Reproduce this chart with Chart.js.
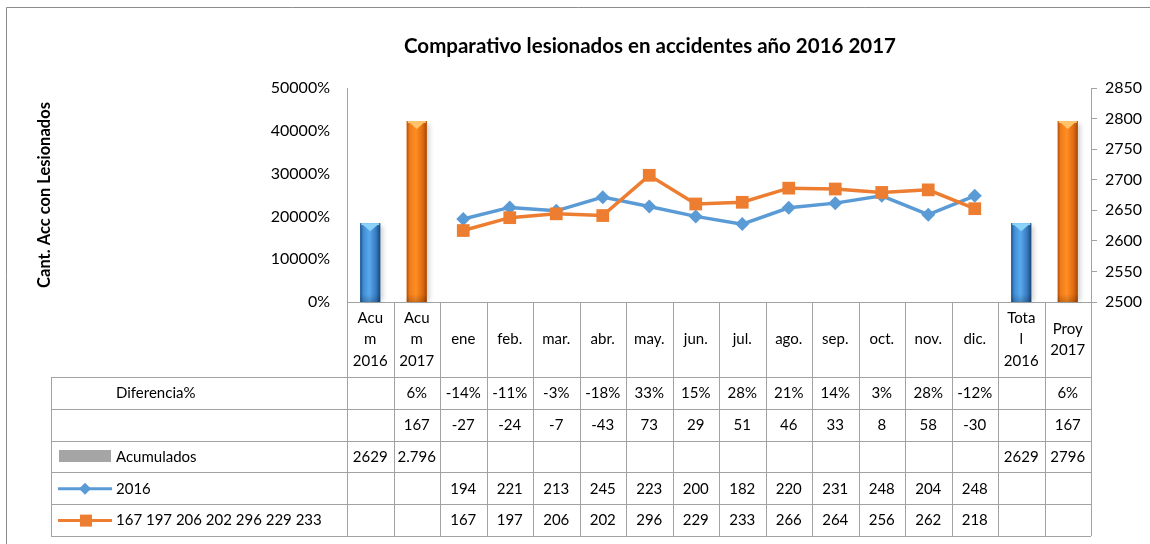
<!DOCTYPE html>
<html>
<head>
<meta charset="utf-8">
<script src="https://cdn.jsdelivr.net/npm/chart.js@4.4.1/dist/chart.umd.min.js"></script>
<style>
  html, body { margin: 0; padding: 0; background: #ffffff; }
  #wrap { width: 1150px; height: 544px; position: relative; }
</style>
</head>
<body>
<div id="wrap"><canvas id="c" width="1150" height="544"></canvas></div>
<script>
// Categories (multi-line labels wrap inside the data-table header cells)
const categories = [
  ['Acu', 'm', '2016'], ['Acu', 'm', '2017'],
  'ene', 'feb.', 'mar.', 'abr.', 'may.', 'jun.', 'jul.', 'ago.', 'sep.', 'oct.', 'nov.', 'dic.',
  ['Tota', 'l', '2016'], ['Proy', '2017']
];

// Accumulated totals (bars, right axis)
const acumulados = [2629, 2796, null, null, null, null, null, null, null, null, null, null, null, null, 2629, 2796];
const acumuladosText = ['2629', '2.796', '', '', '', '', '', '', '', '', '', '', '', '', '2629', '2796'];
const acumuladosColors = ['blue', 'orange', null, null, null, null, null, null, null, null, null, null, null, null, 'blue', 'orange'];

// Monthly injured counts (lines, left axis)
const serie2016 = [null, null, 194, 221, 213, 245, 223, 200, 182, 220, 231, 248, 204, 248, null, null];
const serie2017 = [null, null, 167, 197, 206, 202, 296, 229, 233, 266, 264, 256, 262, 218, null, null];
const serie2017Label = '167 197 206 202 296 229 233';

// Differences 2017 vs 2016
const diferenciaPct = ['', '6%', '-14%', '-11%', '-3%', '-18%', '33%', '15%', '28%', '21%', '14%', '3%', '28%', '-12%', '', '6%'];
const diferencia = ['', '167', '-27', '-24', '-7', '-43', '73', '29', '51', '46', '33', '8', '58', '-30', '', '167'];

const FONT = "Lato, 'Open Sans', 'DejaVu Sans', sans-serif";
const GRID = '#a2a2a2';

const barShades = {
  blue:   { stops: ['#1d4b7e', '#3e8bd3', '#5aaaee', '#3579bf', '#1b4573'], cap: '#8ad2f8', base: '#3e8bd3' },
  orange: { stops: ['#b0500c', '#f07a18', '#ff8f24', '#de6a10', '#a4470a'], cap: '#ffc46a', base: '#f07a18' }
};

const fmt = v => (v === null || v === undefined) ? '' : String(v);

// Rows of the data table drawn under the plot
const tableRows = [
  { label: 'Diferencia%', key: null, cells: diferenciaPct },
  { label: '', key: null, cells: diferencia },
  { label: 'Acumulados', key: 'box', cells: acumuladosText },
  { label: '2016', key: 'diamond', cells: serie2016.map(fmt) },
  { label: serie2017Label, key: 'square', cells: serie2017.map(fmt) }
];

const frame = {
  id: 'frame',
  beforeDraw(chart) {
    const c = chart.ctx;
    c.save();
    c.fillStyle = '#ffffff';
    c.fillRect(0, 0, chart.width, chart.height);
    c.strokeStyle = '#8c8c8c';
    c.lineWidth = 1;
    c.beginPath();
    c.moveTo(6.5, chart.height);
    c.lineTo(6.5, 7.5);
    c.lineTo(chart.width, 7.5);
    c.stroke();
    c.restore();
  },
  afterLayout(chart) {
    // centre the title over the plot block
    const t = chart.titleBlock;
    const w = t.right - t.left;
    t.left = 650 - w / 2;
    t.right = 650 + w / 2;
  }
};

// Cylinder-like shading for the accumulated bars
const barRect = (chart, bar) => {
  const { x, y, base, width } = bar.getProps(['x', 'y', 'base', 'width'], true);
  const bottom = Math.min(base, chart.chartArea.bottom);
  return { x, y, bottom, l: x - width / 2, r: x + width / 2, width };
};

const barLook = {
  id: 'barLook',
  beforeDatasetDraw(chart, args) {
    if (args.meta.type !== 'bar') return;
    const c = chart.ctx;
    c.save();
    c.fillStyle = 'rgba(0,0,0,0.16)';
    c.filter = 'blur(2px)';
    args.meta.data.forEach((bar, i) => {
      if (acumulados[i] == null) return;
      const b = barRect(chart, bar);
      c.fillRect(b.l + 3, b.y + 3, b.width, b.bottom - b.y - 4);
    });
    c.restore();
  },
  afterDatasetDraw(chart, args) {
    if (args.meta.type !== 'bar') return;
    const c = chart.ctx;
    c.save();
    args.meta.data.forEach((bar, i) => {
      if (acumulados[i] == null) return;
      const sh = barShades[acumuladosColors[i]];
      const b = barRect(chart, bar);
      const g = c.createLinearGradient(b.l, 0, b.r, 0);
      [0, 0.14, 0.45, 0.8, 1].forEach((p, k) => g.addColorStop(p, sh.stops[k]));
      c.fillStyle = g;
      c.fillRect(b.l, b.y, b.width, b.bottom - b.y);
      // darker foot
      const fg = c.createLinearGradient(0, b.bottom - 8, 0, b.bottom);
      fg.addColorStop(0, 'rgba(0,0,0,0)');
      fg.addColorStop(1, 'rgba(0,0,0,0.18)');
      c.fillStyle = fg;
      c.fillRect(b.l, b.bottom - 8, b.width, 8);
      // top cap
      c.fillStyle = sh.cap;
      c.fillRect(b.l + 1, b.y, b.width - 2, 2);
      c.beginPath();
      c.moveTo(b.l + 2, b.y + 1);
      c.lineTo(b.r - 2, b.y + 1);
      c.lineTo(b.x, b.y + 8);
      c.closePath();
      c.fill();
    });
    c.restore();
  }
};

// Data table under the x axis
const dataTable = {
  id: 'dataTable',
  afterDraw(chart) {
    const c = chart.ctx;
    const xs = chart.scales.x;
    const n = categories.length;
    const step = xs.getPixelForValue(1) - xs.getPixelForValue(0);
    const axisY = xs.top;
    const top = xs.bottom;
    const bottom = 536;
    const rowH = (bottom - top) / tableRows.length;
    const tableLeft = 51;
    const right = xs.getPixelForValue(n - 1) + step / 2;
    const px = v => Math.round(v) + 0.5;

    c.save();
    c.strokeStyle = GRID;
    c.lineWidth = 1;
    c.beginPath();
    for (let r = 0; r <= tableRows.length; r++) {
      const yy = px(top + r * rowH);
      c.moveTo(tableLeft, yy);
      c.lineTo(right, yy);
    }
    c.moveTo(px(tableLeft), top);
    c.lineTo(px(tableLeft), bottom);
    for (let i = 0; i <= n; i++) {
      const xx = px(xs.getPixelForValue(0) - step / 2 + i * step);
      c.moveTo(xx, axisY);
      c.lineTo(xx, bottom);
    }
    c.stroke();

    c.fillStyle = '#000000';
    c.font = '15px ' + FONT;
    c.textBaseline = 'middle';
    tableRows.forEach((row, r) => {
      const cy = top + r * rowH + rowH / 2 + 0.5;
      c.textAlign = 'left';
      c.fillStyle = '#000000';
      c.fillText(row.label, 116, cy);
      c.textAlign = 'center';
      row.cells.forEach((txt, i) => {
        if (txt !== '') c.fillText(txt, xs.getPixelForValue(i), cy);
      });
      // legend keys
      if (row.key === 'box') {
        c.fillStyle = '#a5a5a5';
        c.fillRect(59, cy - 7, 52, 12);
      } else if (row.key === 'diamond') {
        c.strokeStyle = '#5b9bd5';
        c.lineWidth = 3;
        c.beginPath(); c.moveTo(58, cy); c.lineTo(112, cy); c.stroke();
        c.fillStyle = '#5b9bd5';
        c.beginPath();
        c.moveTo(85, cy - 6); c.lineTo(91, cy); c.lineTo(85, cy + 6); c.lineTo(79, cy);
        c.closePath(); c.fill();
      } else if (row.key === 'square') {
        c.strokeStyle = '#ed7d31';
        c.lineWidth = 3;
        c.beginPath(); c.moveTo(58, cy); c.lineTo(112, cy); c.stroke();
        c.fillStyle = '#ed7d31';
        c.fillRect(80, cy - 6, 12, 12);
      }
    });
    c.restore();
  }
};

const ctx = document.getElementById('c').getContext('2d');
new Chart(ctx, {
  data: {
    labels: categories,
    datasets: [
      {
        type: 'line', label: '2016', data: serie2016, yAxisID: 'y',
        borderColor: '#5b9bd5', backgroundColor: '#5b9bd5', borderWidth: 3.5,
        pointStyle: 'rectRot', pointRadius: 7, pointBorderWidth: 0, order: 1
      },
      {
        type: 'line', label: serie2017Label, data: serie2017, yAxisID: 'y',
        borderColor: '#ed7d31', backgroundColor: '#ed7d31', borderWidth: 3.5,
        pointStyle: 'rect', pointRadius: 9, pointBorderWidth: 0, order: 0
      },
      {
        type: 'bar', label: 'Acumulados', data: acumulados, yAxisID: 'y1',
        backgroundColor: acumuladosColors.map(k => k ? barShades[k].base : '#a5a5a5'),
        categoryPercentage: 1, barPercentage: 0.43, order: 2
      }
    ]
  },
  options: {
    responsive: false,
    animation: false,
    events: [],
    layout: { padding: { left: 0, right: 0, top: 0, bottom: 167 } },
    plugins: {
      legend: { display: false },
      tooltip: { enabled: false },
      title: {
        display: true,
        text: 'Comparativo lesionados en accidentes año 2016 2017',
        color: '#000000',
        font: { family: FONT, size: 20.5, weight: 'bold' },
        padding: { top: 34.5, bottom: 28.9 }
      }
    },
    scales: {
      x: {
        offset: true,
        grid: { display: false, drawTicks: false },
        border: { display: true, color: GRID, width: 1 },
        ticks: {
          color: '#000000', autoSkip: false, maxRotation: 0, minRotation: 0,
          crossAlign: 'center', padding: 16,
          font: { family: FONT, size: 15, lineHeight: 1.43 }
        },
        afterFit(s) { s.height = 75; }
      },
      y: {
        position: 'left', min: 0, max: 500,
        grid: { display: false, drawTicks: false },
        border: { display: true, color: GRID, width: 1 },
        ticks: {
          stepSize: 100, padding: 17, color: '#000000',
          font: { family: FONT, size: 16 },
          callback: v => (v * 100) + '%'
        },
        title: {
          display: true, text: 'Cant. Acc con Lesionados', color: '#000000',
          font: { family: FONT, size: 16.5, weight: 'bold' },
          padding: { top: 35, bottom: 0 }
        },
        afterFit(s) { s.width = 347; }
      },
      y1: {
        position: 'right', min: 2500, max: 2850,
        grid: { drawOnChartArea: false, drawTicks: true, tickLength: 6, color: GRID },
        border: { display: true, color: GRID, width: 1 },
        ticks: {
          stepSize: 50, padding: 8, color: '#000000',
          font: { family: FONT, size: 16 },
          callback: v => String(v)
        },
        afterFit(s) { s.width = 59; }
      }
    }
  },
  plugins: [frame, barLook, dataTable]
});
</script>
</body>
</html>
